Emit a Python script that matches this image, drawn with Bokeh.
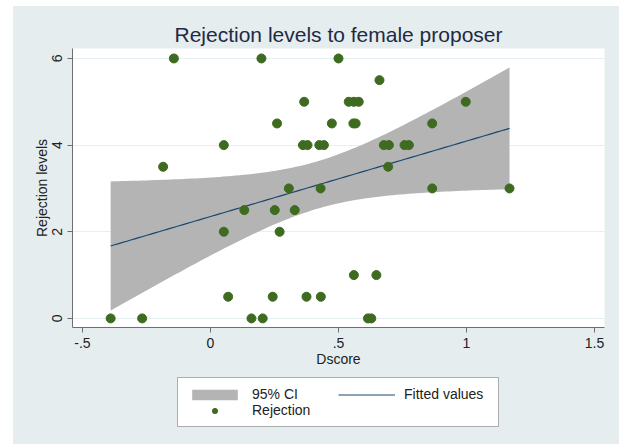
import numpy as np
from bokeh.plotting import figure
from bokeh.layouts import column
from bokeh.models import Range1d, FixedTicker, Legend, LegendItem
from bokeh.embed import file_html
from bokeh.resources import INLINE

# D score and rejection level for each participant (female proposer)
dscore = [
    -0.143, 0.199, 0.500,
    0.660,
    0.366, 0.540, 0.560, 0.579, 0.997,
    0.260, 0.474, 0.558, 0.567, 0.866,
    0.052, 0.361, 0.379, 0.425, 0.443, 0.677, 0.697, 0.758, 0.775,
    -0.185, 0.694,
    0.306, 0.430, 0.866, 1.168,
    0.132, 0.251, 0.329,
    0.052, 0.270,
    0.560, 0.648,
    0.069, 0.243, 0.375, 0.431,
    -0.390, -0.267, 0.160, 0.204, 0.615, 0.628,
]
rejection = [
    6, 6, 6,
    5.5,
    5, 5, 5, 5, 5,
    4.5, 4.5, 4.5, 4.5, 4.5,
    4, 4, 4, 4, 4, 4, 4, 4, 4,
    3.5, 3.5,
    3, 3, 3, 3,
    2.5, 2.5, 2.5,
    2, 2,
    1, 1,
    0.5, 0.5, 0.5, 0.5,
    0, 0, 0, 0, 0, 0,
]

x_ticks = [-0.5, 0, 0.5, 1, 1.5]
x_tick_labels = ["-.5", "0", ".5", "1", "1.5"]
y_ticks = [0, 2, 4, 6]

# Linear fit with 95% confidence interval of the mean prediction
x = np.asarray(dscore, dtype=float)
y = np.asarray(rejection, dtype=float)
n = len(x)
xbar, ybar = x.mean(), y.mean()
sxx = np.sum((x - xbar) ** 2)
slope = np.sum((x - xbar) * (y - ybar)) / sxx
intercept = ybar - slope * xbar
resid = y - (intercept + slope * x)
s = np.sqrt(np.sum(resid ** 2) / (n - 2))
T_CRIT = 2.0154  # t(0.975) with n - 2 = 44 degrees of freedom

grid = np.linspace(x.min(), x.max(), 100)
fit = intercept + slope * grid
se = s * np.sqrt(1.0 / n + (grid - xbar) ** 2 / sxx)
ci_lo = fit - T_CRIT * se
ci_hi = fit + T_CRIT * se

BG = "#e5edef"
FONT = "Liberation Sans"
CI_COLOR = "#b4b4b4"
FIT_COLOR = "#1a476f"
PT_COLOR = "#3e6b1f"

p = figure(
    width=606, height=364,
    x_range=Range1d(-0.539, 1.539), y_range=Range1d(-0.21, 6.23),
    output_backend="svg", toolbar_location=None,
    title="Rejection levels to female proposer",
    min_border_left=59, min_border_right=15,
    min_border_top=42, min_border_bottom=43,
)
p.border_fill_color = BG
p.background_fill_color = "white"
p.outline_line_color = None

p.title.align = "center"
p.title.text_font = FONT
p.title.text_font_size = "21px"
p.title.text_font_style = "normal"
p.title.text_color = "#1f2a44"
p.title.standoff = 6

p.xgrid.visible = False
p.ygrid.grid_line_color = "#e6eff1"
p.ygrid.grid_line_width = 1

p.varea(x=grid, y1=ci_lo, y2=ci_hi, fill_color=CI_COLOR, fill_alpha=1.0)
p.line(grid, fit, line_color=FIT_COLOR, line_width=1.2)
p.scatter(x, y, size=9, fill_color=PT_COLOR, line_color=PT_COLOR)

for ax in (p.xaxis[0], p.yaxis[0]):
    ax.axis_line_color = "#6e6e6e"
    ax.major_tick_line_color = "#6e6e6e"
    ax.major_tick_in = 0
    ax.major_tick_out = 5
    ax.minor_tick_line_color = None
    ax.major_label_text_font = FONT
    ax.major_label_text_font_size = "14px"
    ax.major_label_text_color = "#222222"
    ax.axis_label_text_font = FONT
    ax.axis_label_text_font_size = "14px"
    ax.axis_label_text_font_style = "normal"
    ax.axis_label_text_color = "#222222"
    ax.axis_label_standoff = 0

p.xaxis.ticker = FixedTicker(ticks=x_ticks)
p.xaxis.major_label_overrides = {t: lab for t, lab in zip(x_ticks, x_tick_labels)}
p.xaxis.axis_label = "Dscore"

p.yaxis.ticker = FixedTicker(ticks=y_ticks)
p.yaxis.major_label_orientation = "parallel"
p.yaxis.axis_label = "Rejection levels"

# Strip below the chart that holds the key; the swatch renderers carry one
# NaN row so their styles can be drawn in the key without plotting anything.
# The column aligns this strip's frame with the chart frame above it.
key = figure(
    width=606, height=74,
    x_range=Range1d(0, 1), y_range=Range1d(0, 1),
    x_axis_location=None, y_axis_location=None,
    output_backend="svg", toolbar_location=None,
    min_border_left=0, min_border_right=0, min_border_top=0, min_border_bottom=0,
)
key.grid.visible = False
key.border_fill_color = BG
key.background_fill_color = BG
key.outline_line_color = None

nan = [np.nan]
k_band = key.varea(x=nan, y1=nan, y2=nan, fill_color=CI_COLOR, fill_alpha=1.0)
k_line = key.line(nan, nan, line_color=FIT_COLOR, line_width=1.2)
k_pts = key.scatter(nan, nan, size=8, fill_color=PT_COLOR, line_color=PT_COLOR)

legend = Legend(
    items=[
        LegendItem(label="95% CI", renderers=[k_band]),
        LegendItem(label="Fitted values", renderers=[k_line]),
        LegendItem(label="Rejection", renderers=[k_pts]),
    ],
    orientation="horizontal", ncols=2, location=(105, 17),
    glyph_width=57, glyph_height=13, label_height=15, label_width=86,
    label_standoff=9, spacing=0, padding=8, margin=0,
    label_text_font=FONT, label_text_font_size="14px", label_text_color="#222222",
    border_line_color="#5c5c5c", border_line_width=1,
    background_fill_color="white", background_fill_alpha=1.0,
)
key.add_layout(legend, "center")

page = column(p, key, spacing=0)
page.margin = (6, 0, 0, 13)
page.styles = {"background-color": BG}

open("out.html", "w").write(file_html(page, INLINE))
